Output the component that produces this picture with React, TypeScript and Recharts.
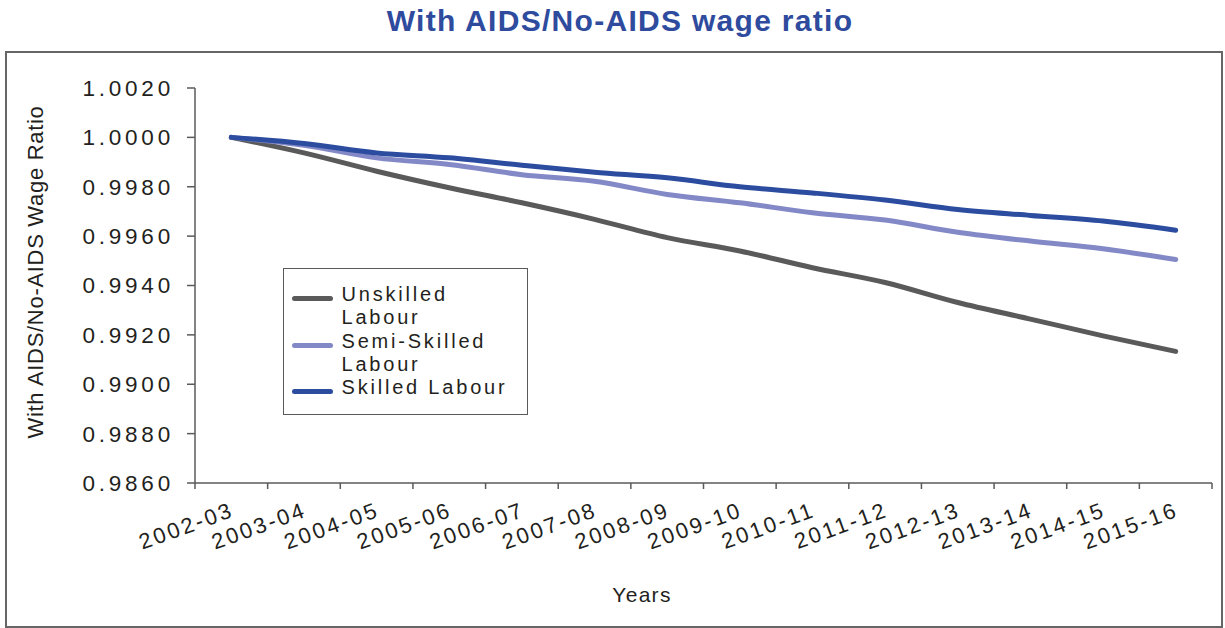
import React from "react";
import { LineChart, Line, XAxis, YAxis, Legend } from "recharts";

const years = [
  "2002-03", "2003-04", "2004-05", "2005-06", "2006-07", "2007-08", "2008-09",
  "2009-10", "2010-11", "2011-12", "2012-13", "2013-14", "2014-15", "2015-16",
];

const unskilled = [
  1.0, 0.99937, 0.99863, 0.99796, 0.99735, 0.99668, 0.99594,
  0.9954, 0.99472, 0.99412, 0.99331, 0.99264, 0.99196, 0.99133,
];
const semiSkilled = [
  1.0, 0.99968, 0.99917, 0.9989, 0.99849, 0.99822, 0.99769,
  0.99735, 0.99695, 0.99665, 0.99616, 0.9958, 0.99549, 0.99505,
];
const skilled = [
  1.0, 0.99975, 0.99937, 0.99917, 0.99887, 0.99859, 0.99836,
  0.998, 0.99775, 0.99746, 0.99708, 0.99684, 0.99661, 0.99624,
];

const seriesNames = ["Unskilled Labour", "Semi-Skilled Labour", "Skilled Labour"];

const yTicks = [0.986, 0.988, 0.99, 0.992, 0.994, 0.996, 0.998, 1.0, 1.002];

const FONT = "'Liberation Sans', Arial, Helvetica, sans-serif";
const AXIS = "#5a5a5a";
const TEXT = "#231f20";

// each year sits in the middle of its slot on a 0..N number scale
const data = years.map((year, i) => ({
  pos: i + 0.5,
  year,
  unskilled: unskilled[i],
  semi: semiSkilled[i],
  skilled: skilled[i],
}));

// slot boundaries get tick marks, slot centres get the year labels
const xTicks: number[] = [];
years.forEach((_, i) => {
  xTicks.push(i, i + 0.5);
});
xTicks.push(years.length);

const CategoryTick = (props: any) => {
  const { x, y, payload } = props;
  const v = payload.value as number;
  if (Number.isInteger(v)) {
    return <line x1={x} x2={x} y1={y} y2={y + 6} stroke={AXIS} strokeWidth={1.5} />;
  }
  const label = years[Math.floor(v)];
  const ax = x + 4;
  const ay = y + 33;
  return (
    <text
      x={ax}
      y={ay}
      transform={`rotate(-20, ${ax}, ${ay})`}
      textAnchor="end"
      fill={TEXT}
      fontSize={22}
      letterSpacing={2.6}
      fontFamily={FONT}
    >
      {label}
    </text>
  );
};

const LegendBox = (props: any) => {
  const items = [...(props.payload || [])].sort(
    (a: any, b: any) => seriesNames.indexOf(a.value) - seriesNames.indexOf(b.value)
  );
  return (
    <div
      style={{
        boxSizing: "border-box",
        width: 245,
        height: 147,
        border: `1.5px solid ${AXIS}`,
        background: "#fff",
        padding: "14px 0 0 7.5px",
        fontFamily: FONT,
        fontSize: 20,
        letterSpacing: 2.8,
        lineHeight: "23.3px",
        color: TEXT,
      }}
    >
      {items.map((entry: any) => (
        <div key={entry.value} style={{ display: "flex", alignItems: "flex-start" }}>
          <div
            style={{
              width: 41,
              height: 5,
              marginTop: 13,
              borderRadius: 3,
              background: entry.color,
              flex: "none",
            }}
          />
          <div style={{ width: 184, marginLeft: 9 }}>{entry.value}</div>
        </div>
      ))}
    </div>
  );
};

export default function App() {
  return (
    <div
      style={{
        position: "absolute",
        left: 0,
        top: 0,
        width: 1225,
        height: 628,
        background: "#fff",
        overflow: "hidden",
      }}
    >
      <div
        style={{
          position: "absolute",
          left: 5,
          top: 51,
          width: 1218,
          height: 577,
          boxSizing: "border-box",
          border: "2px solid #666",
        }}
      />
      <LineChart
        width={1225}
        height={628}
        data={data}
        margin={{ top: 88, right: 13, bottom: 0, left: 0 }}
      >
        <XAxis
          dataKey="pos"
          type="number"
          domain={[0, years.length]}
          ticks={xTicks}
          interval={0}
          height={145}
          tickSize={0}
          tickMargin={0}
          tickLine={false}
          axisLine={{ stroke: AXIS, strokeWidth: 1.5 }}
          tick={<CategoryTick />}
        />
        <YAxis
          type="number"
          domain={[0.986, 1.002]}
          ticks={yTicks}
          interval={0}
          width={195}
          tickSize={8}
          tickMargin={13}
          tickFormatter={(v: number) => v.toFixed(4)}
          axisLine={{ stroke: AXIS, strokeWidth: 1.5 }}
          tickLine={{ stroke: AXIS, strokeWidth: 1.5 }}
          tick={{ fill: TEXT, fontSize: 22.5, fontFamily: FONT, letterSpacing: 3.8 }}
        />
        <Legend
          layout="vertical"
          align="center"
          verticalAlign="middle"
          content={<LegendBox />}
          wrapperStyle={{ left: 283, top: 268, width: 245, height: 147 }}
        />
        <Line
          type="monotone"
          dataKey="unskilled"
          name={seriesNames[0]}
          stroke="#5a5a5a"
          strokeWidth={5}
          strokeLinecap="round"
          dot={false}
          isAnimationActive={false}
        />
        <Line
          type="monotone"
          dataKey="semi"
          name={seriesNames[1]}
          stroke="#8389c6"
          strokeWidth={5}
          strokeLinecap="round"
          dot={false}
          isAnimationActive={false}
        />
        <Line
          type="monotone"
          dataKey="skilled"
          name={seriesNames[2]}
          stroke="#2b4c9f"
          strokeWidth={5}
          strokeLinecap="round"
          dot={false}
          isAnimationActive={false}
        />
      </LineChart>
      <svg
        width={1225}
        height={628}
        style={{ position: "absolute", left: 0, top: 0, pointerEvents: "none" }}
      >
        <text
          x={620}
          y={31}
          textAnchor="middle"
          fill="#2e4b9e"
          fontSize={30}
          fontWeight="bold"
          letterSpacing={1.3}
          fontFamily={FONT}
        >
          With AIDS/No-AIDS wage ratio
        </text>
        <text
          x={43}
          y={272}
          transform="rotate(-90, 43, 272)"
          textAnchor="middle"
          fill={TEXT}
          fontSize={22}
          letterSpacing={0.7}
          fontFamily={FONT}
        >
          With AIDS/No-AIDS Wage Ratio
        </text>
        <text
          x={642}
          y={602}
          textAnchor="middle"
          fill={TEXT}
          fontSize={21}
          letterSpacing={1.3}
          fontFamily={FONT}
        >
          Years
        </text>
      </svg>
    </div>
  );
}
